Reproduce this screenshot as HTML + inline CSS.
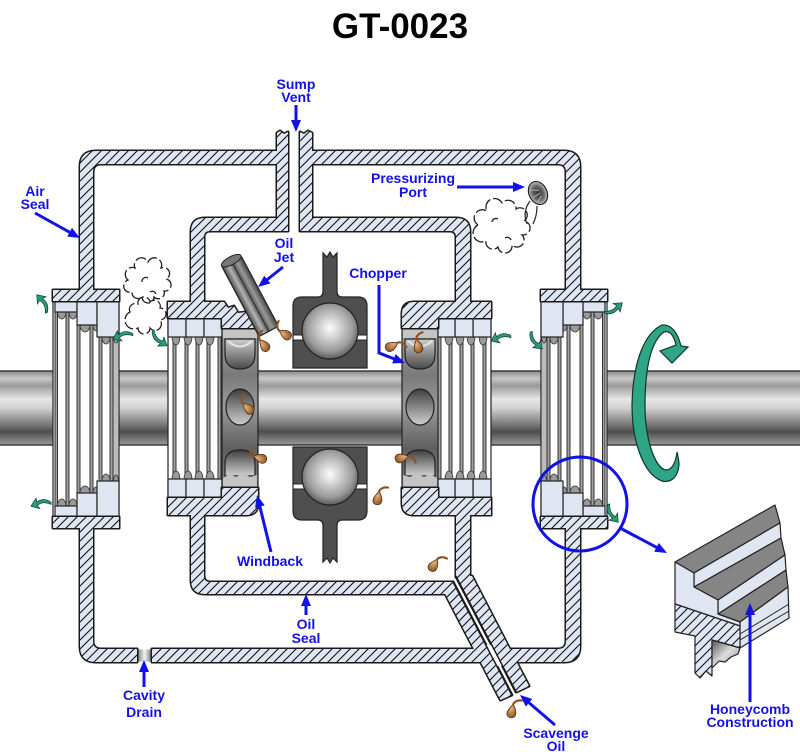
<!DOCTYPE html>
<html><head><meta charset="utf-8">
<style>
html,body{margin:0;padding:0;background:#fff;width:800px;height:752px;overflow:hidden}
svg{display:block}
text{font-family:"Liberation Sans",Arial,sans-serif;font-weight:bold}
</style></head>
<body>
<svg width="800" height="752" viewBox="0 0 800 752" xmlns="http://www.w3.org/2000/svg">
<defs>
  <pattern id="h" patternUnits="userSpaceOnUse" width="9" height="9">
    <rect width="9" height="9" fill="#dfe6f3"/>
    <path d="M-1,10 L10,-1 M-2,2 L2,-2 M7,11 L11,7" stroke="#111" stroke-width="1.1"/>
  </pattern>
  <linearGradient id="shaft" x1="0" y1="0" x2="0" y2="1">
    <stop offset="0" stop-color="#8a8a8a"/><stop offset="0.1" stop-color="#c8c8c8"/>
    <stop offset="0.2" stop-color="#9a9a9a"/><stop offset="0.38" stop-color="#e6e6e6"/>
    <stop offset="0.5" stop-color="#d2d2d2"/><stop offset="0.68" stop-color="#8a8a8a"/>
    <stop offset="0.82" stop-color="#4e4e4e"/><stop offset="1" stop-color="#9a9a9a"/>
  </linearGradient>
  <linearGradient id="wbg" x1="0" y1="0" x2="0" y2="1">
    <stop offset="0" stop-color="#a8a8a8"/><stop offset="0.3" stop-color="#7a7a7a"/>
    <stop offset="0.5" stop-color="#9a9a9a"/><stop offset="0.75" stop-color="#5e5e5e"/>
    <stop offset="1" stop-color="#8a8a8a"/>
  </linearGradient>
  <linearGradient id="pk" x1="0" y1="0" x2="0" y2="1">
    <stop offset="0" stop-color="#cfcfcf"/><stop offset="0.5" stop-color="#8a8a8a"/><stop offset="1" stop-color="#4a4a4a"/>
  </linearGradient>
  <linearGradient id="pk2" x1="0" y1="0" x2="0" y2="1">
    <stop offset="0" stop-color="#3e3e3e"/><stop offset="0.55" stop-color="#8f8f8f"/><stop offset="1" stop-color="#cfcfcf"/>
  </linearGradient>
  <radialGradient id="ball" cx="0.5" cy="0.45" r="0.55">
    <stop offset="0" stop-color="#fafcff"/><stop offset="0.3" stop-color="#d6d6d6"/>
    <stop offset="0.75" stop-color="#9a9a9a"/><stop offset="1" stop-color="#5a5a5a"/>
  </radialGradient>
  <linearGradient id="tube" x1="0" y1="0" x2="0" y2="1">
    <stop offset="0" stop-color="#444"/><stop offset="0.3" stop-color="#9a9a9a"/>
    <stop offset="0.5" stop-color="#5a5a5a"/><stop offset="0.72" stop-color="#b4b4b4"/>
    <stop offset="1" stop-color="#4a4a4a"/>
  </linearGradient>
  <linearGradient id="drain" x1="0" y1="0" x2="1" y2="0">
    <stop offset="0" stop-color="#8a8a8a"/><stop offset="0.5" stop-color="#f4f4f4"/><stop offset="1" stop-color="#8a8a8a"/>
  </linearGradient>
  <radialGradient id="dropg" cx="0.4" cy="0.35" r="0.7">
    <stop offset="0" stop-color="#e6b478"/><stop offset="1" stop-color="#8a5426"/>
  </radialGradient>
  <radialGradient id="nz" cx="0.5" cy="0.5" r="0.5">
    <stop offset="0" stop-color="#333"/><stop offset="0.6" stop-color="#666"/><stop offset="1" stop-color="#c4c4c4"/>
  </radialGradient>
  <linearGradient id="cav" x1="0" y1="0" x2="1" y2="1">
    <stop offset="0" stop-color="#555"/><stop offset="0.5" stop-color="#ddd"/><stop offset="1" stop-color="#888"/>
  </linearGradient>
  <marker id="ar" viewBox="0 0 12 10" refX="8" refY="5" markerWidth="12" markerHeight="10" markerUnits="userSpaceOnUse" orient="auto">
    <path d="M0,0 L12,5 L0,10 Z" fill="#1212e8"/>
  </marker>

  <path id="O1" d="M53,301 L53,290 L80,290 L80,167 Q80,151 96,151 L288,151 L288,164 L101,164 Q93,164 93,172 L93,290 L119,290 L119,301 Z"/>
  <path id="O2" d="M300,151 L564,151 Q580,151 580,167 L580,290 L607,290 L607,301 L541,301 L541,290 L566,290 L566,172 Q566,164 558,164 L300,164 Z"/>
  <path id="O3" d="M53,517 L119,517 L119,528 L93,528 L93,641 Q93,649 101,649 L137,649 L137,662 L96,662 Q80,662 80,646 L80,528 L53,528 Z"/>
  <path id="O4" d="M152,649 L558,649 Q566,649 566,641 L566,528 L541,528 L541,517 L607,517 L607,528 L580,528 L580,646 Q580,662 564,662 L152,662 Z"/>
  <path id="V1" d="M277,133 L280,131 L284,134 L288,132 L288,218 L277,218 Z"/>
  <path id="V2" d="M300,132 L304,134 L308,131 L312,133 L312,218 L300,218 Z"/>
  <path id="I1" d="M168,318 L168,302 L191,302 L191,232 Q191,218 205,218 L288,218 L288,231 L210,231 Q204,231 204,237 L204,302 L224,302 L228,308 L234,306 L238,313 L246,312 L250,319 L257,320 L257,328 L222,328 L222,318 Z"/>
  <path id="I2" d="M300,218 L456,218 Q470,218 470,232 L470,302 L491,302 L491,318 L438,318 L438,328 L402,328 L402,314 Q402,302 414,302 L456,302 L456,237 Q456,231 450,231 L300,231 Z"/>
  <path id="I3" d="M168,498 L222,498 L222,488 L258,488 L258,503 Q258,515 246,515 L204,515 L204,576 Q204,582 210,582 L453,582 L445,594 L205,594 Q191,594 191,580 L191,515 L168,515 Z"/>
  <path id="I4" d="M402,488 L438,488 L438,498 L491,498 L491,515 L470,515 L470,577 L456,577 L456,515 L414,515 Q402,515 402,503 Z"/>
  <path id="P1" d="M439,582 L453,582 L511.8,695 L500.4,700 Z"/>
  <path id="P2" d="M455.9,576 L472,576 L529,686 L516.2,692 Z"/>

  <g id="os">
    <rect x="53" y="301" width="66" height="216" fill="#fff" stroke="#222" stroke-width="1.2"/>
    <g fill="#a2a2a2" stroke="#222" stroke-width="0.9">
      <rect x="55" y="301" width="2.5" height="216"/>
      <rect x="66" y="301" width="3" height="216"/>
      <rect x="77" y="301" width="3" height="216"/>
      <rect x="90" y="301" width="3" height="216"/>
      <rect x="99" y="301" width="3" height="216"/>
      <rect x="110" y="301" width="3" height="216"/>
    </g>
    <rect x="113.5" y="301" width="5" height="216" fill="#bcbcbc"/>
    <g id="osT">
      <g fill="#9a9a9a" stroke="#333" stroke-width="0.8">
        <path d="M57.5,312 a4.25,7 0 0 0 8.5,0Z"/>
        <path d="M69,312 a4,7 0 0 0 8,0Z"/>
        <path d="M80,325 a5,7 0 0 0 10,0Z"/>
        <path d="M93,325 a3,6 0 0 0 6,0Z"/>
        <path d="M102,337 a4,7 0 0 0 8,0Z"/>
        <path d="M113.5,337 a2.5,6 0 0 0 5,0Z"/>
      </g>
      <g fill="#dfe5f1" stroke="#222" stroke-width="1.2">
        <rect x="55" y="301" width="22" height="11"/>
        <rect x="77" y="301" width="20" height="24"/>
        <rect x="97" y="301" width="22" height="36"/>
      </g>
    </g>
    <use href="#osT" transform="matrix(1,0,0,-1,0,818)"/>
  </g>

  <g id="is">
    <rect x="168" y="318" width="54" height="180" fill="#fff" stroke="#222" stroke-width="1.2"/>
    <g fill="#a2a2a2" stroke="#222" stroke-width="0.9">
      <rect x="173" y="318" width="3" height="180"/>
      <rect x="185" y="318" width="3" height="180"/>
      <rect x="196" y="318" width="3" height="180"/>
      <rect x="207" y="318" width="3" height="180"/>
      <rect x="218" y="318" width="3" height="180"/>
    </g>
    <g id="isT">
      <g fill="#9a9a9a" stroke="#333" stroke-width="0.8">
        <path d="M172,337 a4,8 0 0 0 8,0Z"/>
        <path d="M184,337 a4,8 0 0 0 8,0Z"/>
        <path d="M195,337 a4,8 0 0 0 8,0Z"/>
        <path d="M206,337 a4,8 0 0 0 8,0Z"/>
      </g>
      <g fill="#dfe5f1" stroke="#222" stroke-width="1.2">
        <rect x="168" y="318" width="18" height="19"/>
        <rect x="186" y="318" width="18" height="19"/>
        <rect x="204" y="318" width="18" height="19"/>
      </g>
    </g>
    <use href="#isT" transform="matrix(1,0,0,-1,0,816)"/>
  </g>

  <g id="wb">
    <rect x="222" y="326" width="36" height="164" fill="url(#wbg)" stroke="#222" stroke-width="1.2"/>
    <rect x="223" y="327" width="34" height="11" fill="#c4c4c4"/>
    <path d="M225,339 L255,339 L255,354 Q255,369 240,369 Q225,369 225,354 Z" fill="url(#pk)" stroke="#222" stroke-width="1.2"/>
    <path d="M228,341 Q240,352 252,341" fill="none" stroke="#e4e4e4" stroke-width="2"/>
    <ellipse cx="240" cy="407" rx="14" ry="18" fill="url(#pk2)" stroke="#222" stroke-width="1.2"/>
    <path d="M225,476 L225,463 Q225,450 240,450 Q255,450 255,463 L255,476 Z" fill="url(#pk2)" stroke="#222" stroke-width="1.2"/>
    <path d="M223,489 L223,478 L230,474 L236,477 L243,473 L250,477 L257,475 L257,489 Z" fill="#c4c4c4"/>
  </g>

  <g id="drop">
    <path d="M0,-7 C3,-3 5,1 4,4 C3,7 -2,8 -4,5 C-6,2 -3,-2 0,-7 Z" fill="url(#dropg)" stroke="#5a3412" stroke-width="0.8"/>
    <path d="M0,-7 C1,-10 4,-12 8,-12" fill="none" stroke="#8a5426" stroke-width="2.2" stroke-linecap="round"/>
  </g>
  <path id="ta" d="M-8,-2 Q-2,5 5,3 L4,-1 L11,5 L3,10 L4,6 Q-4,8 -9,0 Z" fill="#2b9b7d" stroke="#0e3d30" stroke-width="0.7"/>
</defs>

<rect width="800" height="752" fill="#fff"/>

<text x="400" y="38" font-size="35" text-anchor="middle" fill="#000">GT-0023</text>

<rect x="-2" y="371" width="804" height="74" fill="url(#shaft)" stroke="#333" stroke-width="1.4"/>

<path d="M293,368 L293,306 Q293,297 302,297 L318,297 Q323,297 323,291 L323,253 L327,257 L330,252 L333,257 L337,253 L337,291 Q337,297 342,297 L358,297 Q367,297 367,306 L367,368 Z" fill="#4f4f4f" stroke="#222" stroke-width="1.2"/>
<rect x="293.6" y="335" width="72.8" height="5" fill="#fff"/>
<path d="M293,335 H367 M293,340 H367" stroke="#222" stroke-width="1"/>
<circle cx="330" cy="331" r="28" fill="url(#ball)" stroke="#222" stroke-width="1.2"/>
<path d="M293,447 L367,447 L367,511 Q367,520 358,520 L342,520 Q337,520 337,526 L337,562 L333,558 L330,563 L327,558 L323,562 L323,526 Q323,520 318,520 L302,520 Q293,520 293,511 Z" fill="#4f4f4f" stroke="#222" stroke-width="1.2"/>
<rect x="293.6" y="484" width="72.8" height="5" fill="#fff"/>
<path d="M293,484 H367 M293,489 H367" stroke="#222" stroke-width="1"/>
<circle cx="330" cy="477" r="28" fill="url(#ball)" stroke="#222" stroke-width="1.2"/>

<use href="#os"/>
<use href="#os" transform="translate(660,0) scale(-1,1)"/>
<use href="#is"/>
<use href="#is" transform="translate(659,0) scale(-1,1)"/>
<use href="#wb"/>
<use href="#wb" transform="translate(660,0) scale(-1,1)"/>

<g fill="none" stroke="#1a1a1a" stroke-width="3" stroke-linejoin="round">
  <use href="#O1"/><use href="#O2"/><use href="#O3"/><use href="#O4"/>
  <use href="#V1"/><use href="#V2"/>
  <use href="#I1"/><use href="#I2"/><use href="#I3"/><use href="#I4"/>
  <use href="#P1"/><use href="#P2"/>
</g>
<g fill="url(#h)">
  <use href="#O1"/><use href="#O2"/><use href="#O3"/><use href="#O4"/>
  <use href="#V1"/><use href="#V2"/>
  <use href="#I1"/><use href="#I2"/><use href="#I3"/><use href="#I4"/>
  <use href="#P1"/><use href="#P2"/>
</g>
<polygon points="486.6,645 491,645 501.9,666 497.5,666" fill="#fff"/>
<path d="M453,582 L511.8,695 M455.9,576 L516.2,692" stroke="#1a1a1a" stroke-width="1.4" fill="none"/>
<rect x="138.5" y="649.5" width="12" height="12" fill="url(#drain)"/>

<g transform="translate(250,296) rotate(62)">
  <rect x="-40" y="-11" width="80" height="22" rx="2" fill="url(#tube)" stroke="#222" stroke-width="1.2"/>
  <line x1="-40" y1="0" x2="40" y2="0" stroke="#222" stroke-width="0.8"/>
  <ellipse cx="-40" cy="0" rx="4" ry="11" fill="#777" stroke="#222" stroke-width="1"/>
</g>

<g transform="translate(538,193) rotate(-25)">
  <ellipse rx="9" ry="12" fill="url(#nz)" stroke="#222" stroke-width="1.2"/>
  <path d="M-6,-6 L2,-2 M-7,2 L2,1 M-4,8 L2,4" stroke="#aaa" stroke-width="1"/>
</g>
<path d="M530,201 Q522,212 527,224 M537,206 Q537,216 533,224" fill="none" stroke="#222" stroke-width="1.2"/>

<g fill="none" stroke="#222" stroke-width="1.3" stroke-dasharray="11 3">
  <path d="M128,280 a7,7 0 0 1 7,-12 a7,7 0 0 1 13,-6 a7,7 0 0 1 13,6 a6,6 0 0 1 5,11 a6,6 0 0 1 -2,12 a6,6 0 0 1 -10,6 a6,6 0 0 1 -12,0 a6,6 0 0 1 -10,-5 a6,6 0 0 1 -4,-12 Z"/>
  <path d="M130,312 a6,6 0 0 1 8,-8 a6,6 0 0 1 12,-2 a6,6 0 0 1 10,6 a6,6 0 0 1 0,12 a6,6 0 0 1 -10,8 a6,6 0 0 1 -12,0 a6,6 0 0 1 -8,-16 Z"/>
  <path d="M478,225 a8,8 0 0 1 9,-14 a8,8 0 0 1 15,-8 a8,8 0 0 1 14,6 a7,7 0 0 1 8,12 a7,7 0 0 1 -2,14 a7,7 0 0 1 -10,10 a7,7 0 0 1 -14,2 a7,7 0 0 1 -12,-6 a7,7 0 0 1 -8,-16 Z"/>
  <path d="M142,282 a4,4 0 0 1 6,-4 M150,292 a4,4 0 0 1 6,2 M492,222 a4,4 0 0 1 6,-3 M505,238 a4,4 0 0 1 6,2"/>
</g>

<use href="#drop" transform="translate(285,334) rotate(-60)"/>
<use href="#drop" transform="translate(264,345) rotate(-40)"/>
<use href="#drop" transform="translate(248,408) rotate(-50)"/>
<use href="#drop" transform="translate(260,458) rotate(-75)"/>
<use href="#drop" transform="translate(392,346) rotate(60)"/>
<use href="#drop" transform="translate(418,346) rotate(-15)"/>
<use href="#drop" transform="translate(402,458) rotate(75)"/>
<use href="#drop" transform="translate(378,498) rotate(10)"/>
<use href="#drop" transform="translate(434,565) rotate(30)"/>
<use href="#drop" transform="translate(512,711) rotate(10)"/>

<use href="#ta" transform="translate(41,306) rotate(225)"/>
<use href="#ta" transform="translate(125,338) rotate(150)"/>
<use href="#ta" transform="translate(160,336) rotate(30)"/>
<use href="#ta" transform="translate(43,506) rotate(155)"/>
<use href="#ta" transform="translate(503,340) rotate(150)"/>
<use href="#ta" transform="translate(537,338) rotate(40)"/>
<use href="#ta" transform="translate(611,307) rotate(-45)"/>
<use href="#ta" transform="translate(614,511) rotate(45)"/>

<path d="M662,325 C645,333 633,360 632,405 C632,445 645,475 662,481 C670,483 678,478 679,465 C679,460 678,456 677,452 C676,462 672,470 666,470 C655,468 645,440 645,405 C645,365 652,340 664,332 C670,330 674,336 676,345 L660,351 L672,363 L688,347 L681,346 C678,334 672,324 662,325 Z" fill="#2ea587" stroke="#12332a" stroke-width="1.2"/>

<g stroke="#222" stroke-width="1.2" stroke-linejoin="round">
  <polygon points="675,562 775,505 780,523 694,573" fill="#858585"/>
  <polygon points="694,573 780,523 781,538 694,587" fill="#dfe5f1"/>
  <polygon points="694,587 781,538 785,555 718,600" fill="#858585"/>
  <polygon points="718,600 785,555 786,570 718,614" fill="#dfe5f1"/>
  <polygon points="718,614 786,570 788,587 740,622" fill="#858585"/>
  <polygon points="740,622 788,587 789,618 740,648" fill="#dfe5f1"/>
  <polygon points="675,562 694,573 694,587 718,600 718,614 740,622 740,626 675,604" fill="#dfe5f1"/>
  <polygon points="675,604 740,626 740,648 730,645 712,640 712,676 706,671 700,678 695,673 695,636 675,632" fill="url(#h)"/>
  <polygon points="712,640 740,648 738,654 731,657 725,662 719,661 712,668" fill="url(#cav)"/>
  <path d="M740,634 L789,604 M740,640 L789,611" fill="none" stroke-width="1"/>
</g>

<circle cx="580" cy="504" r="47" fill="none" stroke="#1212e8" stroke-width="3"/>

<g stroke="#1212e8" stroke-width="3" fill="none" marker-end="url(#ar)">
  <line x1="296" y1="105" x2="296" y2="128"/>
  <line x1="35" y1="213" x2="76.5" y2="236.1"/>
  <line x1="283" y1="267" x2="261.1" y2="284.5"/>
  <polyline points="379,285 379,353 401.3,361.6"/>
  <line x1="457" y1="187" x2="521" y2="187"/>
  <line x1="271" y1="552" x2="258" y2="498.9"/>
  <line x1="306" y1="615" x2="306" y2="598"/>
  <line x1="144" y1="687" x2="144" y2="664"/>
  <line x1="555" y1="725" x2="523" y2="697.6"/>
  <line x1="750" y1="702" x2="750" y2="607"/>
  <line x1="620" y1="528" x2="663.5" y2="551.1"/>
</g>

<g fill="#1212e8" font-size="14" text-anchor="middle">
  <text x="296" y="89">Sump</text><text x="296" y="102">Vent</text>
  <text x="35" y="196">Air</text><text x="35" y="209">Seal</text>
  <text x="284" y="248">Oil</text><text x="284" y="262">Jet</text>
  <text x="378" y="278">Chopper</text>
  <text x="413" y="183">Pressurizing</text><text x="413" y="197">Port</text>
  <text x="270" y="566">Windback</text>
  <text x="306" y="629">Oil</text><text x="306" y="643">Seal</text>
  <text x="144" y="700">Cavity</text><text x="144" y="717">Drain</text>
  <text x="556" y="738">Scavenge</text><text x="556" y="751">Oil</text>
  <text x="750" y="714">Honeycomb</text><text x="750" y="727">Construction</text>
</g>
</svg>
</body></html>
